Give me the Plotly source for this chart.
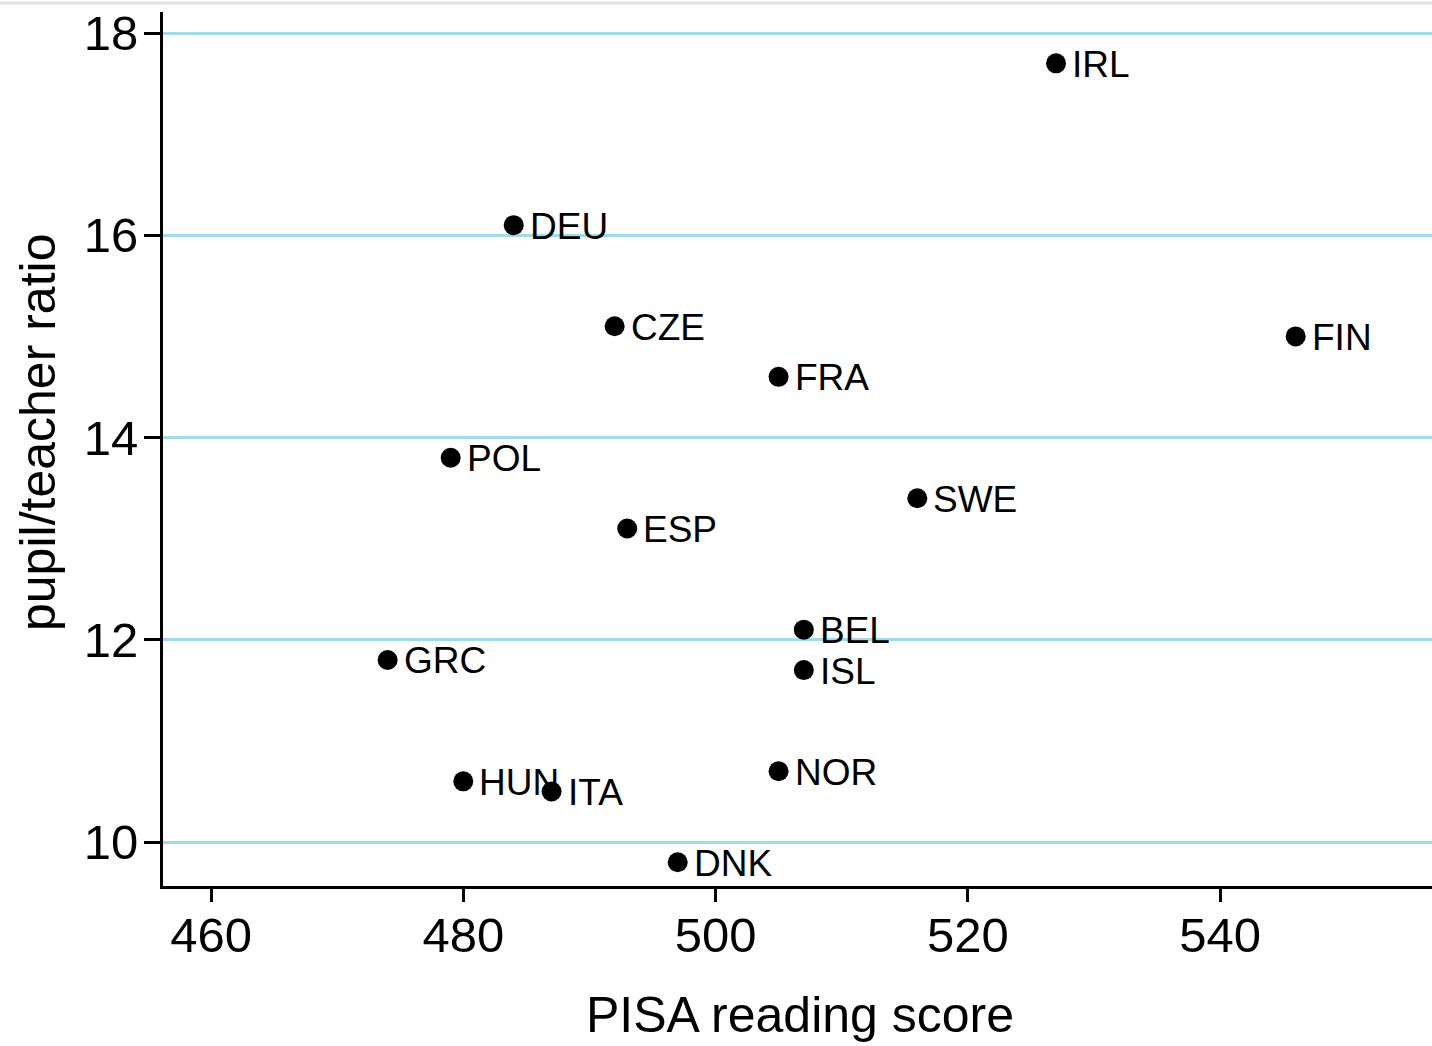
import plotly.graph_objects as go

# PISA 2000 reading scores vs pupil/teacher ratio by country
countries = ["IRL", "DEU", "CZE", "FIN", "FRA", "POL", "SWE", "ESP",
             "BEL", "GRC", "ISL", "NOR", "HUN", "ITA", "DNK"]
reading_score = [527, 484, 492, 546, 505, 479, 516, 493,
                 507, 474, 507, 505, 480, 487, 497]
pupil_teacher = [17.7, 16.1, 15.1, 15.0, 14.6, 13.8, 13.4, 13.1,
                 12.1, 11.8, 11.7, 10.7, 10.6, 10.5, 9.8]

x_ticks = [460, 480, 500, 520, 540]
y_ticks = [10, 12, 14, 16, 18]

FONT = "Liberation Sans, Arial, sans-serif"

fig = go.Figure()
fig.add_trace(go.Scatter(
    x=reading_score,
    y=pupil_teacher,
    mode="markers",
    marker=dict(size=20, color="black"),
    cliponaxis=False,
    showlegend=False,
))

# country code to the right of each marker
for name, xv, yv in zip(countries, reading_score, pupil_teacher):
    fig.add_annotation(x=xv, y=yv, xref="x", yref="y", text=name,
                       xanchor="left", yanchor="middle", xshift=14, yshift=-1,
                       showarrow=False,
                       font=dict(family=FONT, size=37, color="black"))

fig.update_layout(
    width=1432,
    height=1046,
    margin=dict(l=163, r=0, t=12, b=160),
    paper_bgcolor="white",
    plot_bgcolor="white",
    font=dict(family=FONT, color="black"),
    xaxis=dict(
        range=[456.19, 556.81],
        tickvals=x_ticks,
        ticks="outside",
        ticklen=13,
        tickwidth=3,
        tickcolor="black",
        tickfont=dict(size=49),
        ticklabelstandoff=-9,
        showgrid=False,
        zeroline=False,
        showline=True,
        linecolor="black",
        linewidth=3,
    ),
    yaxis=dict(
        range=[9.565, 18.208],
        tickvals=y_ticks,
        ticks="outside",
        ticklen=16,
        tickwidth=3,
        tickcolor="black",
        tickfont=dict(size=49),
        ticklabelstandoff=-4,
        showgrid=True,
        gridcolor="#a3daea",
        gridwidth=3,
        zeroline=False,
        showline=True,
        linecolor="black",
        linewidth=3,
    ),
)

# axis titles
fig.add_annotation(text="PISA reading score", xref="paper", yref="paper",
                   x=0.502, y=-0.1476, xanchor="center", yanchor="middle",
                   showarrow=False, font=dict(size=50))
fig.add_annotation(text="pupil/teacher ratio", xref="paper", yref="paper",
                   x=-0.0985, y=0.5183, xanchor="center", yanchor="middle",
                   textangle=-90, showarrow=False, font=dict(size=50))

# thin frame line along the top of the page
fig.add_shape(type="line", xref="paper", yref="paper",
              x0=-0.2, x1=1.0, y0=1.0102, y1=1.0102,
              line=dict(color="#e2e2e2", width=3))

fig.write_html("out.html")
